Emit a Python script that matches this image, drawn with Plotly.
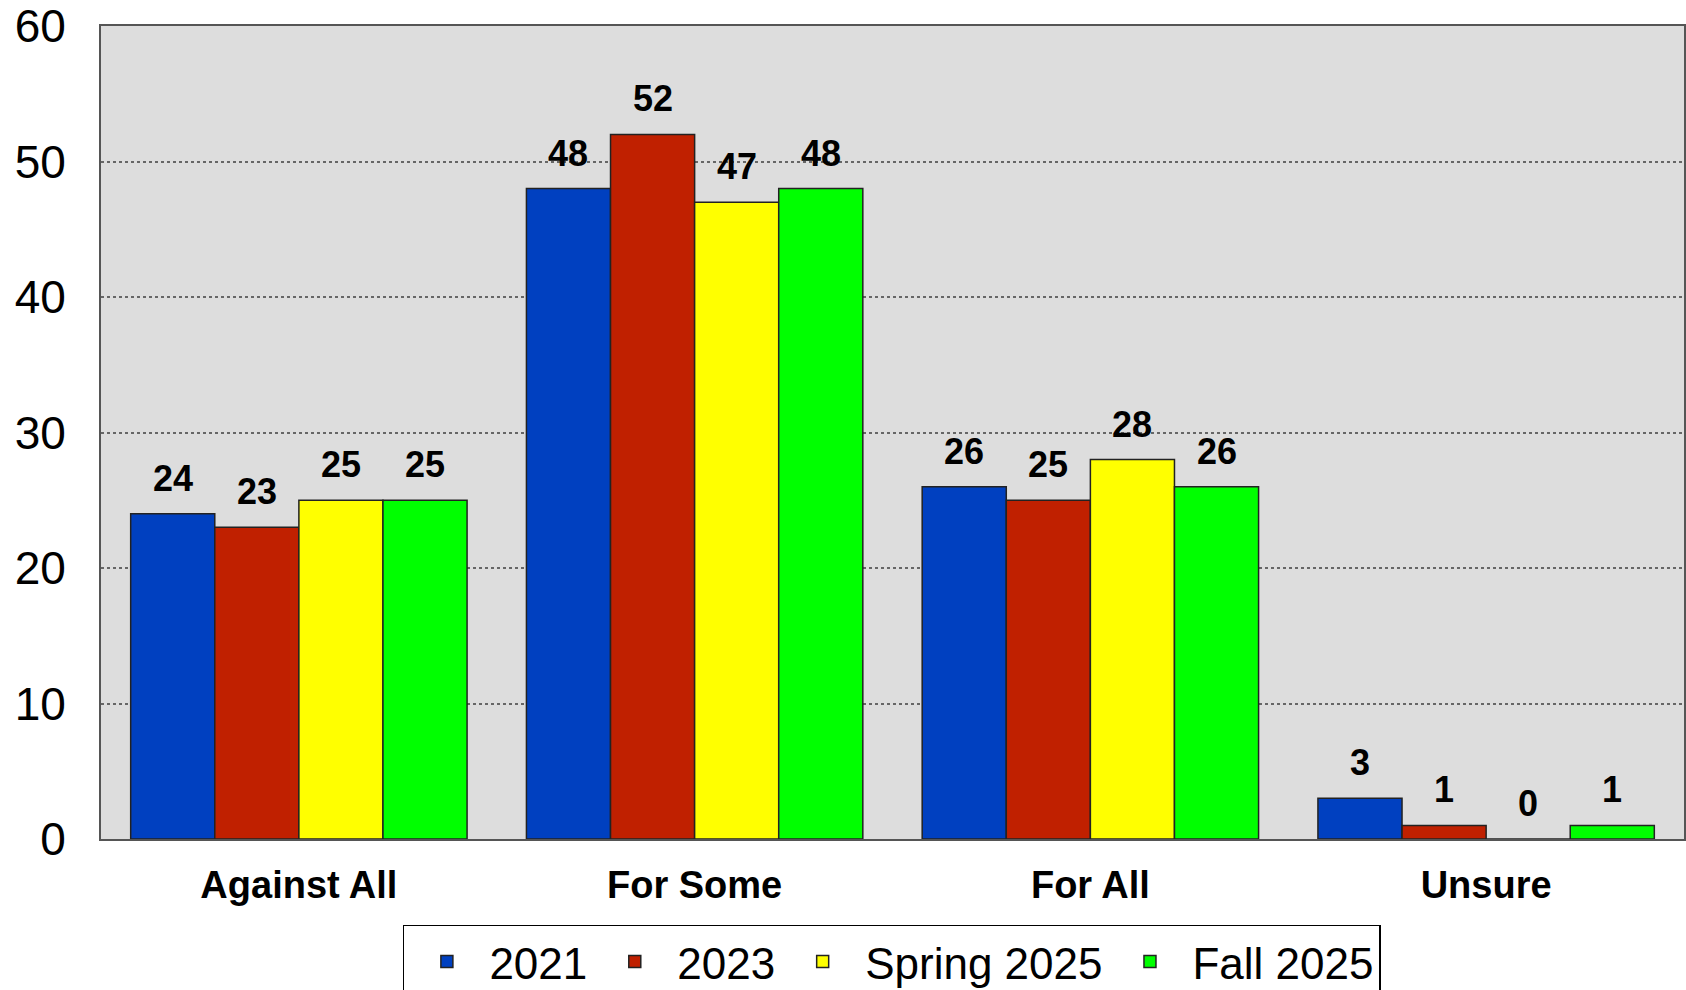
import plotly.graph_objects as go

categories = ["Against All", "For Some", "For All", "Unsure"]
series_names = ["2021", "2023", "Spring 2025", "Fall 2025"]
values_2021 = [24, 48, 26, 3]
values_2023 = [23, 52, 25, 1]
values_spring2025 = [25, 47, 28, 0]
values_fall2025 = [25, 48, 26, 1]
y_ticks = [0, 10, 20, 30, 40, 50, 60]

series_values = [values_2021, values_2023, values_spring2025, values_fall2025]
colors = ["#0040C0", "#C02000", "#FFFF00", "#00FF00"]

FONT = "Liberation Sans, Arial, sans-serif"
BARGAP = 0.15
n_series = len(series_names)
bar_w = (1 - BARGAP) / n_series

fig = go.Figure()
for name, vals, col in zip(series_names, series_values, colors):
    fig.add_trace(go.Bar(
        x=categories, y=vals, name=name,
        marker=dict(color=col, line=dict(color="#222222", width=1.5)),
    ))

annotations = []
for j, vals in enumerate(series_values):
    for i, v in enumerate(vals):
        annotations.append(dict(
            x=i + (j - (n_series - 1) / 2) * bar_w, y=v,
            xref="x", yref="y", text=str(v), showarrow=False,
            yanchor="bottom", yshift=13,
            font=dict(family=FONT, size=36, color="#000000", weight="bold"),
        ))

fig.update_layout(
    width=1686, height=990,
    margin=dict(l=101, r=2, t=26, b=151, autoexpand=False),
    paper_bgcolor="white", plot_bgcolor="#DDDDDD",
    barmode="group", bargap=BARGAP, bargroupgap=0,
    font=dict(family=FONT, color="#000000"),
    annotations=annotations,
    legend=dict(
        orientation="h", x=0.529, xanchor="center", xref="container",
        y=0.0657, yanchor="top", yref="container",
        font=dict(family=FONT, size=44, color="#000000"),
        bordercolor="#000000", borderwidth=1.5, bgcolor="white",
        itemwidth=75, tracegroupgap=0,
    ),
    showlegend=True,
)
fig.update_xaxes(
    type="category", showgrid=False, ticks="", automargin=False,
    tickfont=dict(family=FONT, size=38, color="#000000", weight="bold"),
    ticklabelstandoff=11,
    showline=True, linecolor="#555555", linewidth=2, mirror=True,
)
fig.update_yaxes(
    range=[0, 60], tickvals=y_ticks, ticks="", automargin=False,
    tickfont=dict(family=FONT, size=46, color="#000000"),
    ticklabelstandoff=24,
    showgrid=True, gridcolor="#666666", griddash="dot", gridwidth=1.5,
    zeroline=False,
    showline=True, linecolor="#555555", linewidth=2, mirror=True,
)

fig.write_html(
    "out.html",
    config={"displayModeBar": False},
    post_script="document.body.style.margin='0';",
)
